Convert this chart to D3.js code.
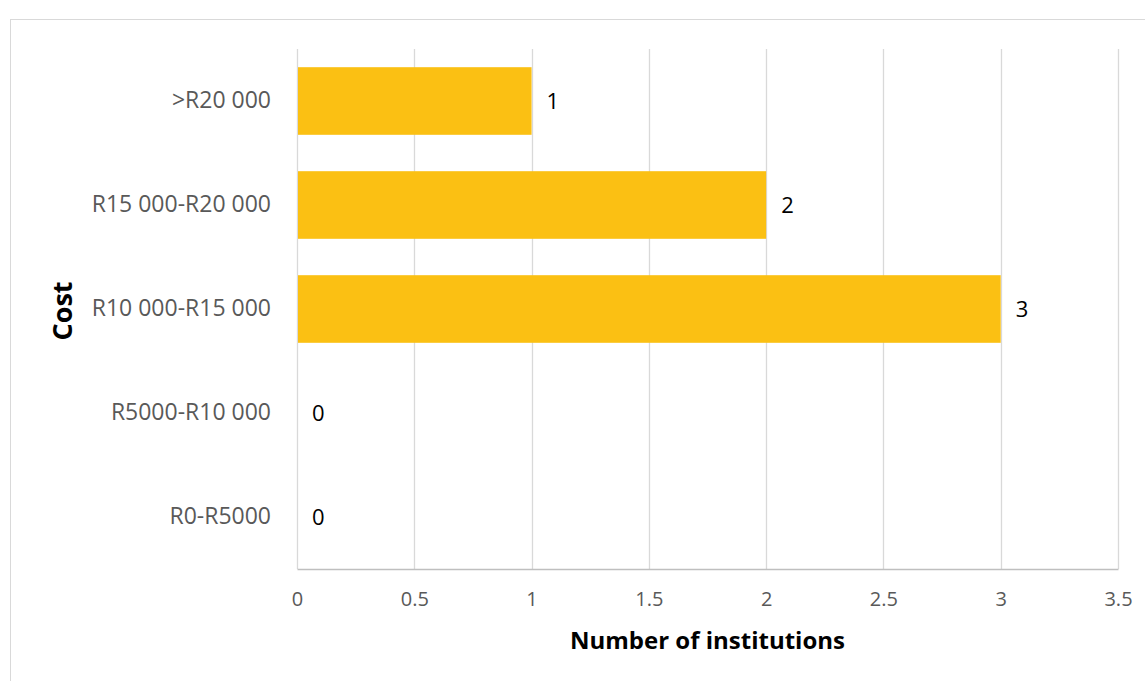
<!DOCTYPE html>
<html>
<head>
<meta charset="utf-8">
<script src="https://cdn.jsdelivr.net/npm/d3@7"></script>
<style>
  html, body { margin: 0; padding: 0; background: #fff; }
  svg { display: block; }
  text { font-family: "Open Sans", "Noto Sans", sans-serif; }
</style>
</head>
<body>
<svg id="chart" width="1145" height="681"></svg>
<script>
// Cost bands (top to bottom) and number of institutions in each
const categories = [">R20 000", "R15 000-R20 000", "R10 000-R15 000", "R5000-R10 000", "R0-R5000"];
const counts = [1, 2, 3, 0, 0];
const xTicks = [0, 0.5, 1, 1.5, 2, 2.5, 3, 3.5];
const xTitle = "Number of institutions";
const yTitle = "Cost";

const svg = d3.select("#chart");
const W = 1145, H = 681;
const margin = { left: 297, right: 27, top: 49, bottom: 112 };
const innerW = W - margin.left - margin.right;
const innerH = H - margin.top - margin.bottom;

// outer chart frame
svg.append("rect")
  .attr("x", 10.5).attr("y", 19.5)
  .attr("width", W + 20).attr("height", H + 20)
  .attr("fill", "none").attr("stroke", "#d9d9d9").attr("stroke-width", 1);

const g = svg.append("g").attr("transform", `translate(${margin.left},${margin.top})`);

const x = d3.scaleLinear().domain([0, 3.5]).range([0, innerW]);
const y = d3.scaleBand().domain(categories).range([0, innerH]).paddingInner(0.35).paddingOuter(0.175);

// vertical gridlines
g.append("g")
  .selectAll("line")
  .data(xTicks)
  .join("line")
  .attr("x1", d => Math.round(x(d)) + 0.5).attr("x2", d => Math.round(x(d)) + 0.5)
  .attr("y1", 0).attr("y2", innerH)
  .attr("stroke", "#d9d9d9").attr("stroke-width", 1.3);

// x axis
const xAxis = g.append("g")
  .attr("transform", `translate(0,${innerH})`)
  .call(d3.axisBottom(x).tickValues(xTicks).tickSize(0).tickPadding(23).tickFormat(d3.format("")));
xAxis.select(".domain").attr("stroke", "#bfbfbf").attr("stroke-width", 1.3);
xAxis.selectAll("text").attr("fill", "#595959").style("font-size", "20px");

// y axis labels
const yAxis = g.append("g")
  .call(d3.axisLeft(y).tickSize(0).tickPadding(26));
yAxis.select(".domain").remove();
yAxis.selectAll("text").attr("fill", "#595959").style("font-size", "23px");

// bars
g.append("g")
  .selectAll("rect")
  .data(categories)
  .join("rect")
  .attr("x", x(0) + 1)
  .attr("y", d => y(d))
  .attr("width", (d, i) => Math.max(0, x(counts[i]) - x(0) - 1))
  .attr("height", y.bandwidth())
  .attr("fill", "#fbc013");

// value labels
g.append("g")
  .selectAll("text")
  .data(categories)
  .join("text")
  .attr("x", (d, i) => x(counts[i]) + 15)
  .attr("y", d => y(d) + y.bandwidth() / 2)
  .attr("dy", "0.35em")
  .attr("fill", "#000")
  .style("font-size", "22px")
  .text((d, i) => counts[i]);

// axis titles
svg.append("text")
  .attr("x", margin.left + innerW / 2)
  .attr("y", 649)
  .attr("text-anchor", "middle")
  .attr("font-weight", "bold")
  .attr("fill", "#000")
  .style("font-size", "24px")
  .text(xTitle);

svg.append("text")
  .attr("transform", `translate(72,${margin.top + innerH / 2 + 2}) rotate(-90)`)
  .attr("text-anchor", "middle")
  .attr("font-weight", "bold")
  .attr("fill", "#000")
  .style("font-size", "27px")
  .text(yTitle);
</script>
</body>
</html>
